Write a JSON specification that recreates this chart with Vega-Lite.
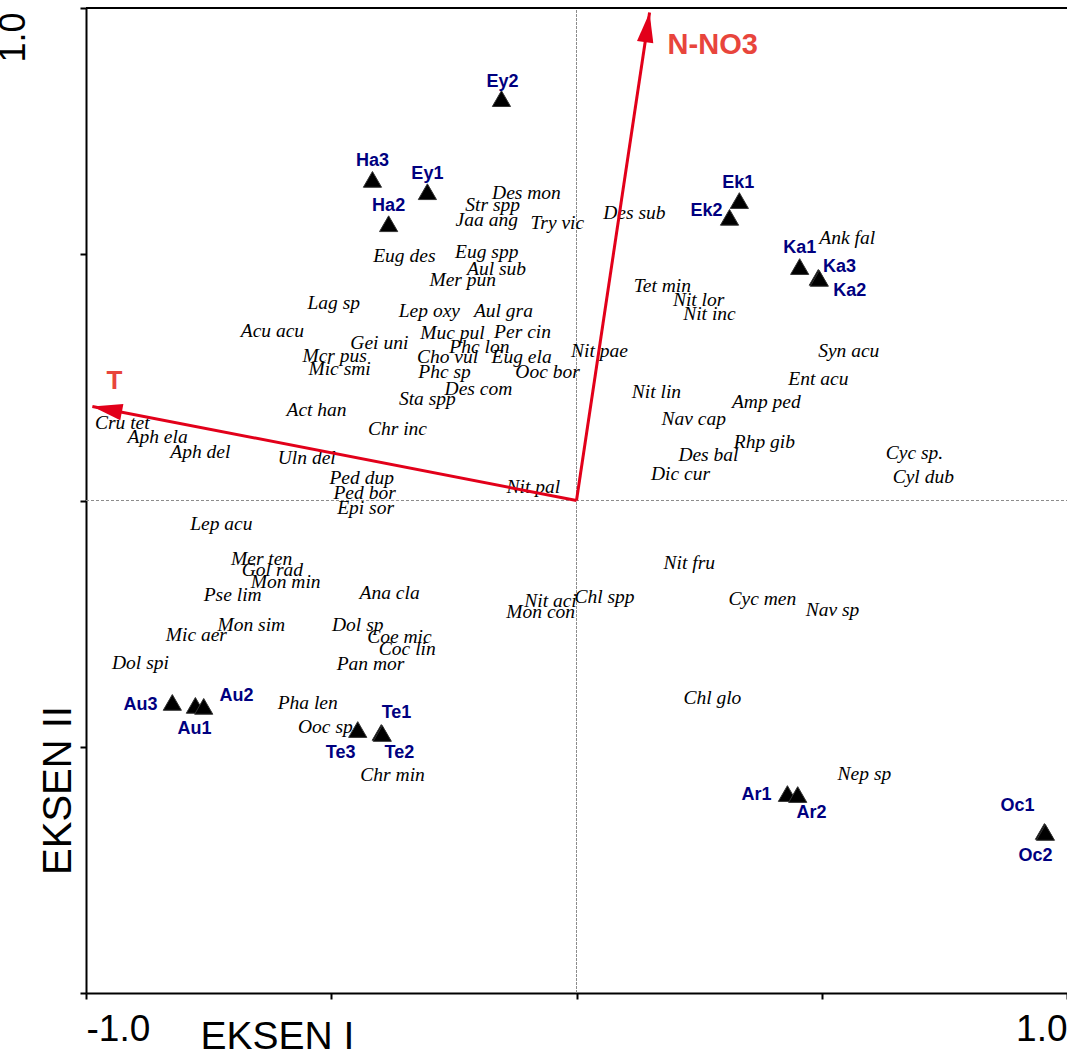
{
  "$schema": "https://vega.github.io/schema/vega-lite/v6.json",
  "autosize": {"type": "none"},
  "padding": {"left": 86, "top": 8, "right": 0, "bottom": 62},
  "width": 981,
  "height": 985,
  "background": "white",
  "config": {"view": {"stroke": null}},
  "datasets": {
    "species": [
      {"n": "Des mon", "x": -0.102, "y": 0.625},
      {"n": "Str spp", "x": -0.171, "y": 0.601},
      {"n": "Jaa ang", "x": -0.183, "y": 0.569},
      {"n": "Try vic", "x": -0.039, "y": 0.564},
      {"n": "Des sub", "x": 0.118, "y": 0.583},
      {"n": "Eug des", "x": -0.351, "y": 0.497},
      {"n": "Eug spp", "x": -0.183, "y": 0.504},
      {"n": "Aul sub", "x": -0.163, "y": 0.471},
      {"n": "Mer pun", "x": -0.232, "y": 0.447},
      {"n": "Lep oxy", "x": -0.300, "y": 0.384},
      {"n": "Aul gra", "x": -0.149, "y": 0.384},
      {"n": "Lag sp", "x": -0.495, "y": 0.402},
      {"n": "Acu acu", "x": -0.620, "y": 0.345},
      {"n": "Gei uni", "x": -0.402, "y": 0.319},
      {"n": "Mcr pus", "x": -0.493, "y": 0.294},
      {"n": "Mic smi", "x": -0.483, "y": 0.266},
      {"n": "Muc pul", "x": -0.253, "y": 0.341},
      {"n": "Per cin", "x": -0.110, "y": 0.343},
      {"n": "Phc lon", "x": -0.198, "y": 0.311},
      {"n": "Cho vul", "x": -0.263, "y": 0.292},
      {"n": "Eug ela", "x": -0.112, "y": 0.292},
      {"n": "Phc sp", "x": -0.269, "y": 0.260},
      {"n": "Ooc bor", "x": -0.059, "y": 0.260},
      {"n": "Des com", "x": -0.200, "y": 0.227},
      {"n": "Sta spp", "x": -0.304, "y": 0.207},
      {"n": "Nit pae", "x": 0.047, "y": 0.303},
      {"n": "Act han", "x": -0.530, "y": 0.183},
      {"n": "Chr inc", "x": -0.365, "y": 0.146},
      {"n": "Cru tet", "x": -0.926, "y": 0.158},
      {"n": "Aph ela", "x": -0.854, "y": 0.128},
      {"n": "Aph del", "x": -0.767, "y": 0.099},
      {"n": "Uln del", "x": -0.550, "y": 0.087},
      {"n": "Ped dup", "x": -0.438, "y": 0.045},
      {"n": "Ped bor", "x": -0.432, "y": 0.016},
      {"n": "Epi sor", "x": -0.430, "y": -0.016},
      {"n": "Nit pal", "x": -0.088, "y": 0.028},
      {"n": "Lep acu", "x": -0.724, "y": -0.047},
      {"n": "Tet min", "x": 0.175, "y": 0.435},
      {"n": "Nit lor", "x": 0.249, "y": 0.408},
      {"n": "Nit inc", "x": 0.271, "y": 0.378},
      {"n": "Ank fal", "x": 0.552, "y": 0.532},
      {"n": "Syn acu", "x": 0.555, "y": 0.303},
      {"n": "Ent acu", "x": 0.493, "y": 0.246},
      {"n": "Nit lin", "x": 0.163, "y": 0.221},
      {"n": "Amp ped", "x": 0.387, "y": 0.199},
      {"n": "Nav cap", "x": 0.239, "y": 0.166},
      {"n": "Rhp gib", "x": 0.383, "y": 0.118},
      {"n": "Des bal", "x": 0.269, "y": 0.093},
      {"n": "Dic cur", "x": 0.212, "y": 0.053},
      {"n": "Cyc sp.", "x": 0.689, "y": 0.097},
      {"n": "Cyl dub", "x": 0.707, "y": 0.047},
      {"n": "Mer ten", "x": -0.642, "y": -0.118},
      {"n": "Gol rad", "x": -0.620, "y": -0.142},
      {"n": "Mon min", "x": -0.593, "y": -0.166},
      {"n": "Pse lim", "x": -0.701, "y": -0.191},
      {"n": "Ana cla", "x": -0.381, "y": -0.187},
      {"n": "Mon sim", "x": -0.663, "y": -0.252},
      {"n": "Mic aer", "x": -0.775, "y": -0.274},
      {"n": "Dol sp", "x": -0.446, "y": -0.252},
      {"n": "Coe mic", "x": -0.361, "y": -0.278},
      {"n": "Coc lin", "x": -0.345, "y": -0.301},
      {"n": "Pan mor", "x": -0.420, "y": -0.331},
      {"n": "Dol spi", "x": -0.889, "y": -0.329},
      {"n": "Pha len", "x": -0.548, "y": -0.412},
      {"n": "Ooc sp", "x": -0.512, "y": -0.459},
      {"n": "Chr min", "x": -0.375, "y": -0.558},
      {"n": "Nit fru", "x": 0.230, "y": -0.126},
      {"n": "Nit aci", "x": -0.053, "y": -0.205},
      {"n": "Mon con", "x": -0.073, "y": -0.227},
      {"n": "Chl spp", "x": 0.057, "y": -0.195},
      {"n": "Cyc men", "x": 0.379, "y": -0.201},
      {"n": "Nav sp", "x": 0.522, "y": -0.223},
      {"n": "Chl glo", "x": 0.277, "y": -0.400},
      {"n": "Nep sp", "x": 0.587, "y": -0.556}
    ],
    "sites": [
      {"s": "Ey2", "x": -0.153, "y": 0.816},
      {"s": "Ha3", "x": -0.416, "y": 0.652},
      {"s": "Ey1", "x": -0.304, "y": 0.627},
      {"s": "Ha2", "x": -0.383, "y": 0.562},
      {"s": "Ek1", "x": 0.332, "y": 0.609},
      {"s": "Ek2", "x": 0.312, "y": 0.575},
      {"s": "Ka1", "x": 0.455, "y": 0.475},
      {"s": "Ka3", "x": 0.493, "y": 0.453},
      {"s": "Ka2", "x": 0.495, "y": 0.451},
      {"s": "Au3", "x": -0.824, "y": -0.410},
      {"s": "Au1", "x": -0.777, "y": -0.416},
      {"s": "Au2", "x": -0.760, "y": -0.418},
      {"s": "Te3", "x": -0.446, "y": -0.465},
      {"s": "Te1", "x": -0.398, "y": -0.471},
      {"s": "Te2", "x": -0.396, "y": -0.473},
      {"s": "Ar1", "x": 0.430, "y": -0.595},
      {"s": "Ar2", "x": 0.451, "y": -0.597},
      {"s": "Oc1", "x": 0.954, "y": -0.672},
      {"s": "Oc2", "x": 0.956, "y": -0.674}
    ],
    "siteLabels": [
      {"s": "Ey2", "x": -0.151, "y": 0.849},
      {"s": "Ha3", "x": -0.416, "y": 0.690},
      {"s": "Ey1", "x": -0.304, "y": 0.662},
      {"s": "Ha2", "x": -0.383, "y": 0.597},
      {"s": "Ek1", "x": 0.330, "y": 0.644},
      {"s": "Ek2", "x": 0.265, "y": 0.587},
      {"s": "Ka1", "x": 0.455, "y": 0.512},
      {"s": "Ka3", "x": 0.536, "y": 0.475},
      {"s": "Ka2", "x": 0.557, "y": 0.426},
      {"s": "Au3", "x": -0.889, "y": -0.416},
      {"s": "Au1", "x": -0.779, "y": -0.463},
      {"s": "Au2", "x": -0.693, "y": -0.396},
      {"s": "Te3", "x": -0.481, "y": -0.512},
      {"s": "Te1", "x": -0.367, "y": -0.432},
      {"s": "Te2", "x": -0.361, "y": -0.512},
      {"s": "Ar1", "x": 0.367, "y": -0.597},
      {"s": "Ar2", "x": 0.479, "y": -0.634},
      {"s": "Oc1", "x": 0.899, "y": -0.621},
      {"s": "Oc2", "x": 0.936, "y": -0.721}
    ],
    "arrows": [
      {"v": "T", "x": -0.987, "y": 0.191},
      {"v": "N-NO3", "x": 0.149, "y": 0.991}
    ]
  },
  "layer": [
    {
      "data": {"values": [{}]},
      "mark": {"type": "rule", "color": "#8c8c8c", "strokeWidth": 1, "strokeDash": [3, 2]},
      "encoding": {
        "x": {"datum": -1, "type": "quantitative", "scale": {"domain": [-1, 1], "nice": false, "zero": false}},
        "x2": {"datum": 1},
        "y": {"datum": 0, "type": "quantitative", "scale": {"domain": [-1, 1], "nice": false, "zero": false}}
      }
    },
    {
      "data": {"values": [{}]},
      "mark": {"type": "rule", "color": "#8c8c8c", "strokeWidth": 1, "strokeDash": [3, 1]},
      "encoding": {
        "x": {"datum": 0, "type": "quantitative"},
        "y": {"datum": -1, "type": "quantitative"},
        "y2": {"datum": 1}
      }
    },
    {
      "data": {"values": [{}]},
      "mark": {"type": "rule", "color": "#000000", "strokeWidth": 2},
      "encoding": {
        "x": {"datum": -1, "type": "quantitative"},
        "x2": {"datum": 1},
        "y": {"datum": 1, "type": "quantitative"}
      }
    },
    {
      "data": {"name": "species"},
      "mark": {"type": "text", "font": "Liberation Serif", "fontStyle": "italic", "fontSize": 19.5, "color": "#000000", "align": "center", "baseline": "middle"},
      "encoding": {
        "x": {
          "field": "x", "type": "quantitative",
          "scale": {"domain": [-1, 1], "nice": false, "zero": false},
          "axis": {
            "title": "EKSEN I",
            "values": [-1, -0.5, 0, 0.5, 1],
            "labelExpr": "datum.value == -1 ? '-1.0' : (datum.value == 1 ? '1.0' : '')",
            "labelFlush": true, "labelOverlap": false, "labelBound": false,
            "grid": false,
            "domainColor": "#000000", "domainWidth": 2,
            "tickColor": "#000000", "tickWidth": 2, "tickSize": 6,
            "labelPadding": 12, "labelFont": "Liberation Sans", "labelFontSize": 37, "labelColor": "#000000",
            "titleFont": "Liberation Sans", "titleFontSize": 39, "titleFontWeight": "normal", "titleColor": "#000000",
            "titleX": 191, "titleY": 55, "titleAlign": "center", "titleBaseline": "alphabetic"
          }
        },
        "y": {
          "field": "y", "type": "quantitative",
          "scale": {"domain": [-1, 1], "nice": false, "zero": false},
          "axis": {
            "title": "EKSEN II",
            "values": [-1, -0.5, 0, 0.5, 1],
            "labelExpr": "datum.value == 1 ? '1.0' : ''",
            "labelAngle": 270, "labelAlign": "right", "labelBaseline": "bottom",
            "labelFlush": false, "labelOverlap": false, "labelBound": false, "labelOffset": 4,
            "grid": false,
            "domainColor": "#000000", "domainWidth": 2,
            "tickColor": "#000000", "tickWidth": 2, "tickSize": 6,
            "labelPadding": 48, "labelFont": "Liberation Sans", "labelFontSize": 36, "labelColor": "#000000",
            "titleFont": "Liberation Sans", "titleFontSize": 40, "titleFontWeight": "normal", "titleColor": "#000000",
            "titleX": -16, "titleY": 782, "titleAngle": 270, "titleAlign": "center", "titleBaseline": "alphabetic"
          }
        },
        "text": {"field": "n"}
      }
    },
    {
      "data": {"name": "arrows"},
      "mark": {"type": "rule", "color": "#e2001a", "strokeWidth": 3},
      "encoding": {
        "x": {"field": "x", "type": "quantitative"},
        "y": {"field": "y", "type": "quantitative"},
        "x2": {"datum": 0},
        "y2": {"datum": 0}
      }
    },
    {
      "data": {"name": "arrows"},
      "transform": [{"filter": "datum.v == 'T'"}],
      "mark": {"type": "point", "shape": "M0,0L0.55,2L-0.55,2Z", "size": 900, "angle": 281, "filled": true, "color": "#e2001a", "opacity": 1},
      "encoding": {
        "x": {"field": "x", "type": "quantitative"},
        "y": {"field": "y", "type": "quantitative"}
      }
    },
    {
      "data": {"name": "arrows"},
      "transform": [{"filter": "datum.v == 'N-NO3'"}],
      "mark": {"type": "point", "shape": "M0,0L0.55,2L-0.55,2Z", "size": 900, "angle": 8.5, "filled": true, "color": "#e2001a", "opacity": 1},
      "encoding": {
        "x": {"field": "x", "type": "quantitative"},
        "y": {"field": "y", "type": "quantitative"}
      }
    },
    {
      "data": {"name": "arrows"},
      "transform": [{"filter": "datum.v == 'T'"}],
      "mark": {"type": "text", "font": "Liberation Sans", "fontWeight": "bold", "fontSize": 26, "color": "#e8453c", "align": "center", "baseline": "middle", "dx": 22, "dy": -25},
      "encoding": {
        "x": {"field": "x", "type": "quantitative"},
        "y": {"field": "y", "type": "quantitative"},
        "text": {"field": "v"}
      }
    },
    {
      "data": {"name": "arrows"},
      "transform": [{"filter": "datum.v == 'N-NO3'"}],
      "mark": {"type": "text", "font": "Liberation Sans", "fontWeight": "bold", "fontSize": 29, "color": "#e8453c", "align": "left", "baseline": "middle", "dx": 18, "dy": 33},
      "encoding": {
        "x": {"field": "x", "type": "quantitative"},
        "y": {"field": "y", "type": "quantitative"},
        "text": {"field": "v"}
      }
    },
    {
      "data": {"name": "sites"},
      "mark": {"type": "point", "shape": "triangle-up", "size": 330, "filled": true, "color": "#000000", "opacity": 1, "stroke": "#333333", "strokeWidth": 1},
      "encoding": {
        "x": {"field": "x", "type": "quantitative"},
        "y": {"field": "y", "type": "quantitative"}
      }
    },
    {
      "data": {"name": "siteLabels"},
      "mark": {"type": "text", "font": "Liberation Sans", "fontWeight": "bold", "fontSize": 18, "color": "#000080", "align": "center", "baseline": "middle"},
      "encoding": {
        "x": {"field": "x", "type": "quantitative"},
        "y": {"field": "y", "type": "quantitative"},
        "text": {"field": "s"}
      }
    }
  ]
}
